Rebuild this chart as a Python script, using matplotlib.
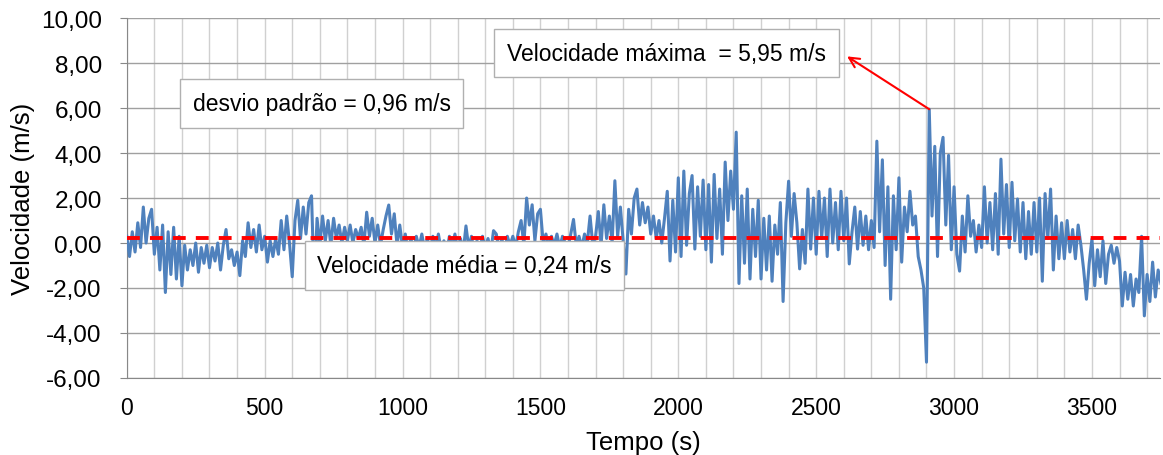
import numpy as np
import matplotlib
matplotlib.use('Agg')
import matplotlib.pyplot as plt
from matplotlib.ticker import MultipleLocator, FuncFormatter

plt.rcParams['font.family'] = ['Liberation Sans', 'DejaVu Sans']

# tempo (s), amostras lidas a cada 10 s
tempo = np.arange(0, 3751, 10)

# velocidade (m/s), uma linha = 100 s
velocidade = [
    0.3, -0.6, 0.5, -0.4, 0.9, -0.2, 1.6, 0.0, 1.1, 1.5,
    -0.5, 0.7, -1.2, 0.8, -2.2, 0.5, -1.4, 0.7, -1.6, 0.3,
    -1.9, -0.1, -1.2, -0.3, -1.0, 0.0, -1.3, -0.2, -0.9, -0.1,
    -1.1, -0.2, -0.8, 0.0, -1.2, -0.1, 0.6, -0.7, -0.3, -1.0,
    -0.4, -1.45, 0.1, -0.6, 0.9, -0.2, 0.6, -0.4, 0.8, -0.3,
    0.3, -0.85, 0.1, -0.6, 0.2, -0.5, 1.0, -0.3, 1.2, 0.0,
    -1.5, 1.0, 1.9, 0.2, 1.6, 0.4, 1.8, 2.1, -2.05, 1.1,
    -0.1, 1.2, 0.1, 1.0, -0.1, 1.1, 0.2, 0.8, 0.0, 0.7,
    0.1, 0.8, 0.0, 0.6, 0.2, 0.7, -0.1, 1.37, 0.3, 1.1,
    0.0, 0.8, -0.1, 0.6, 1.2, 1.69, 0.4, 1.3, -0.1, 0.8,
    -0.2, 0.4, -0.4, 0.2, -0.3, 0.3, -0.2, 0.4, -0.3, 0.2,
    -0.4, 0.3, -0.2, 0.4, -0.3, 0.1, -0.4, 0.3, -0.2, 0.4,
    -0.3, 0.2, -0.4, 0.76, -0.2, 0.3, -0.4, 0.1, -0.3, 0.3,
    -0.2, 0.2, -0.4, 0.55, 0.4, -0.3, 0.2, -0.4, 0.3, -0.1,
    0.3, -0.2, 0.5, 1.0, -0.1, 2.0, 0.8, 1.7, 0.1, 1.3,
    1.5, 0.0, 0.4, -0.2, 0.3, -0.1, 0.4, -0.2, 0.3, 0.0,
    -0.2, 0.4, 1.05, -0.1, 0.3, -0.2, 0.4, 0.0, 1.2, -0.1,
    0.3, 1.4, -0.1, 1.7, 0.2, 1.2, 0.0, 2.77, 0.3, 1.6,
    0.1, -1.38, 1.5, 0.4, 2.0, 2.4, 0.8, 1.8, 0.9, 1.6,
    0.4, 1.2, 0.2, 1.0, 0.0, 1.1, 2.3, -0.8, 1.9, -0.4,
    2.9, -0.6, 3.2, -0.1, 2.2, 3.0, -0.27, 2.5, 0.3, 2.8,
    -0.3, 2.6, -0.85, 3.05, 0.2, 2.4, -0.5, 3.6, 1.0, 3.2,
    1.5, 4.93, -1.8, 2.1, -0.9, 2.4, -1.6, 1.5, -0.6, 1.9,
    -1.6, 1.1, -1.2, 1.2, -1.7, 0.8, -0.5, 1.8, -2.6, 0.9,
    2.75, 0.3, 2.2, 0.9, -1.15, 0.6, -0.9, 2.4, -0.27, 2.0,
    -0.5, 2.3, 0.2, 2.0, -0.6, 2.4, 0.0, 1.8, -0.3, 2.3,
    0.1, 2.0, -0.93, 0.5, 1.6, -0.27, 1.4, -0.1, 1.2, -0.3,
    1.0, -0.2, 4.53, 0.5, 3.7, -1.0, 2.5, -2.5, 2.1, -0.3,
    2.9, -0.85, 1.6, 0.5, 2.3, 0.8, 1.2, -0.6, -1.2, -2.0,
    -5.3, 5.95, 1.2, 4.3, -0.6, 4.0, 4.7, 0.8, 3.9, -0.3,
    2.5, -0.5, -1.25, 1.2, -0.4, 2.1, 0.3, 1.0, -0.4, 0.8,
    -0.2, 2.5, 0.0, 1.8, -0.3, 2.2, -0.5, 3.73, 0.4, 2.6,
    -0.2, 2.7, 0.1, 1.96, -0.4, 1.8, -0.7, 1.4, -0.5, 1.8,
    -0.4, 2.0, -1.7, 2.2, 0.2, 2.4, -1.2, 1.2, -0.7, 0.9,
    -0.7, 1.0, -0.4, 0.6, -0.7, 0.8, -0.1, -1.2, -2.5, -0.9,
    0.18, -1.9, -0.3, -1.5, 0.1, -1.8, -0.5, -0.1, -0.9, -0.2,
    -0.8, -2.8, -1.3, -2.5, -1.4, -2.8, -1.6, -2.2, 0.3, -3.24,
    -1.4, -2.6, -0.85, -2.4, -1.2, -1.8,
]

v_media = 0.24
v_max = 5.95
t_max = 2910
desvio = 0.96

fig = plt.figure(figsize=(11.63, 4.56), dpi=100)
ax = fig.add_axes([0.109, 0.169, 0.888, 0.789])

ax.plot(tempo, velocidade, color='#4F81BD', lw=2.2, zorder=3)
ax.plot([0, 3750], [v_media, v_media], color='red', lw=2.8,
        dashes=(3.3, 2.6), zorder=4)

ax.set_xlim(0, 3745)
ax.set_ylim(-6, 10)
ax.xaxis.set_major_locator(MultipleLocator(500))
ax.xaxis.set_minor_locator(MultipleLocator(100))
ax.yaxis.set_major_locator(MultipleLocator(2))
ax.yaxis.set_major_formatter(FuncFormatter(lambda v, p: f'{v:.2f}'.replace('.', ',')))

ax.grid(which='minor', axis='x', color='#d0d0d0', lw=1)
ax.grid(which='major', axis='x', color='#d0d0d0', lw=1)
ax.grid(which='major', axis='y', color='#a0a0a0', lw=1)
ax.set_axisbelow(True)

for s in ['top', 'right']:
    ax.spines[s].set_visible(False)
for s in ['left', 'bottom']:
    ax.spines[s].set_color('#888888')

ax.tick_params(axis='x', which='both', length=0, labelsize=16.5, pad=13)
ax.tick_params(axis='y', length=5, color='#888888', labelsize=17.5, pad=13)

ax.set_xlabel('Tempo (s)', fontsize=18.5, labelpad=8)
ax.set_ylabel('Velocidade (m/s)', fontsize=18.5, labelpad=4)

caixa = dict(boxstyle='square,pad=0.55', fc='white', ec='#b0b0b0', lw=1)
ax.text(1957, 8.45, 'Velocidade máxima  = 5,95 m/s', fontsize=16.5,
        ha='center', va='center', bbox=caixa, zorder=6)
ax.text(707, 6.2, 'desvio padrão = 0,96 m/s', fontsize=16.5,
        ha='center', va='center', bbox=caixa, zorder=6)
ax.text(1225, -1.0, 'Velocidade média = 0,24 m/s', fontsize=16.5,
        ha='center', va='center', bbox=caixa, zorder=6)

ax.annotate('', xy=(2612, 8.3), xytext=(t_max, v_max),
            arrowprops=dict(arrowstyle='->', color='red', lw=1.5,
                            mutation_scale=18, shrinkA=0, shrinkB=0),
            zorder=7)

fig.savefig('out.png', dpi=100)
